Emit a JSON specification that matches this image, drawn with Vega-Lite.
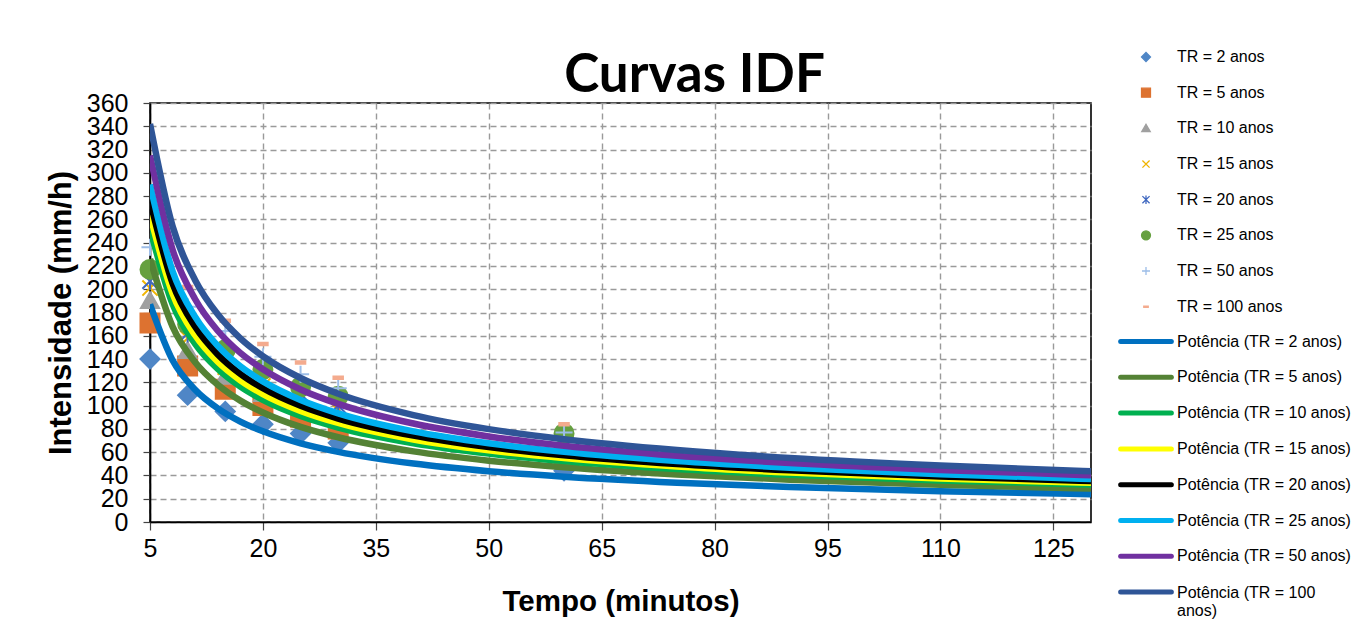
{
  "$schema": "https://vega.github.io/schema/vega-lite/v6.json",
  "width": 941,
  "height": 419,
  "autosize": {"type": "none"},
  "padding": {"left": 150, "top": 103, "right": 273, "bottom": 97},
  "background": "white",
  "title": {"text": "Curvas IDF", "font": "Lato", "fontSize": 53, "fontWeight": "bold", "color": "black", "anchor": "middle", "frame": "group", "dx": 74, "offset": -96, "baseline": "alphabetic"},
  "config": {
    "view": {"stroke": "black", "strokeWidth": 1.6},
    "axis": {"labelFont": "Liberation Sans", "titleFont": "Liberation Sans", "labelColor": "black", "titleColor": "black", "domainColor": "black", "domainWidth": 1.6, "tickColor": "#444", "tickWidth": 1.2, "grid": true, "gridColor": "#9a9a9a", "gridDash": [6, 4], "gridWidth": 1.4, "labelOverlap": false, "labelFlush": false, "labelBound": false, "titleFontWeight": "bold"},
    "legend": {"labelFont": "Liberation Sans", "labelFontSize": 16, "labelColor": "black", "labelLimit": 300, "padding": 0, "clipHeight": 16, "rowPadding": 19.67, "symbolOpacity": 1}
  },
  "datasets": {
    "pts": [
      {"s": "TR = 2 anos", "t": 5, "v": 140}, {"s": "TR = 2 anos", "t": 10, "v": 109}, {"s": "TR = 2 anos", "t": 15, "v": 95}, {"s": "TR = 2 anos", "t": 20, "v": 84}, {"s": "TR = 2 anos", "t": 25, "v": 76}, {"s": "TR = 2 anos", "t": 30, "v": 68}, {"s": "TR = 2 anos", "t": 60, "v": 44},
      {"s": "TR = 5 anos", "t": 5, "v": 171}, {"s": "TR = 5 anos", "t": 10, "v": 134}, {"s": "TR = 5 anos", "t": 15, "v": 114}, {"s": "TR = 5 anos", "t": 20, "v": 100}, {"s": "TR = 5 anos", "t": 25, "v": 90}, {"s": "TR = 5 anos", "t": 30, "v": 80}, {"s": "TR = 5 anos", "t": 60, "v": 55},
      {"s": "TR = 10 anos", "t": 5, "v": 190}, {"s": "TR = 10 anos", "t": 10, "v": 147}, {"s": "TR = 10 anos", "t": 15, "v": 125}, {"s": "TR = 10 anos", "t": 20, "v": 110}, {"s": "TR = 10 anos", "t": 25, "v": 100}, {"s": "TR = 10 anos", "t": 30, "v": 91}, {"s": "TR = 10 anos", "t": 60, "v": 63},
      {"s": "TR = 15 anos", "t": 5, "v": 201}, {"s": "TR = 15 anos", "t": 10, "v": 158}, {"s": "TR = 15 anos", "t": 15, "v": 133}, {"s": "TR = 15 anos", "t": 20, "v": 117}, {"s": "TR = 15 anos", "t": 25, "v": 106}, {"s": "TR = 15 anos", "t": 30, "v": 96}, {"s": "TR = 15 anos", "t": 60, "v": 67},
      {"s": "TR = 20 anos", "t": 5, "v": 207}, {"s": "TR = 20 anos", "t": 10, "v": 162}, {"s": "TR = 20 anos", "t": 15, "v": 137}, {"s": "TR = 20 anos", "t": 20, "v": 121}, {"s": "TR = 20 anos", "t": 25, "v": 110}, {"s": "TR = 20 anos", "t": 30, "v": 100}, {"s": "TR = 20 anos", "t": 60, "v": 70},
      {"s": "TR = 25 anos", "t": 5, "v": 217}, {"s": "TR = 25 anos", "t": 10, "v": 170}, {"s": "TR = 25 anos", "t": 15, "v": 148}, {"s": "TR = 25 anos", "t": 20, "v": 131}, {"s": "TR = 25 anos", "t": 25, "v": 116}, {"s": "TR = 25 anos", "t": 30, "v": 108}, {"s": "TR = 25 anos", "t": 60, "v": 76},
      {"s": "TR = 50 anos", "t": 5, "v": 236}, {"s": "TR = 50 anos", "t": 10, "v": 185}, {"s": "TR = 50 anos", "t": 15, "v": 164}, {"s": "TR = 50 anos", "t": 20, "v": 142}, {"s": "TR = 50 anos", "t": 25, "v": 127}, {"s": "TR = 50 anos", "t": 30, "v": 115}, {"s": "TR = 50 anos", "t": 60, "v": 77},
      {"s": "TR = 100 anos", "t": 10, "v": 202}, {"s": "TR = 100 anos", "t": 15, "v": 173}, {"s": "TR = 100 anos", "t": 20, "v": 153}, {"s": "TR = 100 anos", "t": 25, "v": 137}, {"s": "TR = 100 anos", "t": 30, "v": 124}, {"s": "TR = 100 anos", "t": 60, "v": 84}
    ],
    "fit": [
      {"s": "Potência (TR = 2 anos)", "t": 5, "v": 187}, {"s": "Potência (TR = 2 anos)", "t": 8, "v": 138.9}, {"s": "Potência (TR = 2 anos)", "t": 11, "v": 113.6}, {"s": "Potência (TR = 2 anos)", "t": 14, "v": 97.6}, {"s": "Potência (TR = 2 anos)", "t": 17, "v": 86.3}, {"s": "Potência (TR = 2 anos)", "t": 20, "v": 77.9}, {"s": "Potência (TR = 2 anos)", "t": 25, "v": 67.6}, {"s": "Potência (TR = 2 anos)", "t": 30, "v": 60.3}, {"s": "Potência (TR = 2 anos)", "t": 40, "v": 50.2}, {"s": "Potência (TR = 2 anos)", "t": 50, "v": 43.6}, {"s": "Potência (TR = 2 anos)", "t": 60, "v": 38.9}, {"s": "Potência (TR = 2 anos)", "t": 75, "v": 33.8}, {"s": "Potência (TR = 2 anos)", "t": 90, "v": 30.1}, {"s": "Potência (TR = 2 anos)", "t": 110, "v": 26.5}, {"s": "Potência (TR = 2 anos)", "t": 130, "v": 23.9},
      {"s": "Potência (TR = 5 anos)", "t": 5, "v": 226}, {"s": "Potência (TR = 5 anos)", "t": 8, "v": 167.9}, {"s": "Potência (TR = 5 anos)", "t": 11, "v": 137.3}, {"s": "Potência (TR = 5 anos)", "t": 14, "v": 117.9}, {"s": "Potência (TR = 5 anos)", "t": 17, "v": 104.3}, {"s": "Potência (TR = 5 anos)", "t": 20, "v": 94.1}, {"s": "Potência (TR = 5 anos)", "t": 25, "v": 81.7}, {"s": "Potência (TR = 5 anos)", "t": 30, "v": 72.8}, {"s": "Potência (TR = 5 anos)", "t": 40, "v": 60.7}, {"s": "Potência (TR = 5 anos)", "t": 50, "v": 52.7}, {"s": "Potência (TR = 5 anos)", "t": 60, "v": 47.0}, {"s": "Potência (TR = 5 anos)", "t": 75, "v": 40.8}, {"s": "Potência (TR = 5 anos)", "t": 90, "v": 36.4}, {"s": "Potência (TR = 5 anos)", "t": 110, "v": 32.0}, {"s": "Potência (TR = 5 anos)", "t": 130, "v": 28.8},
      {"s": "Potência (TR = 10 anos)", "t": 5, "v": 252}, {"s": "Potência (TR = 10 anos)", "t": 8, "v": 187.2}, {"s": "Potência (TR = 10 anos)", "t": 11, "v": 153.1}, {"s": "Potência (TR = 10 anos)", "t": 14, "v": 131.5}, {"s": "Potência (TR = 10 anos)", "t": 17, "v": 116.3}, {"s": "Potência (TR = 10 anos)", "t": 20, "v": 104.9}, {"s": "Potência (TR = 10 anos)", "t": 25, "v": 91.1}, {"s": "Potência (TR = 10 anos)", "t": 30, "v": 81.2}, {"s": "Potência (TR = 10 anos)", "t": 40, "v": 67.7}, {"s": "Potência (TR = 10 anos)", "t": 50, "v": 58.8}, {"s": "Potência (TR = 10 anos)", "t": 60, "v": 52.4}, {"s": "Potência (TR = 10 anos)", "t": 75, "v": 45.5}, {"s": "Potência (TR = 10 anos)", "t": 90, "v": 40.5}, {"s": "Potência (TR = 10 anos)", "t": 110, "v": 35.7}, {"s": "Potência (TR = 10 anos)", "t": 130, "v": 32.2},
      {"s": "Potência (TR = 15 anos)", "t": 5, "v": 264}, {"s": "Potência (TR = 15 anos)", "t": 8, "v": 196.2}, {"s": "Potência (TR = 15 anos)", "t": 11, "v": 160.4}, {"s": "Potência (TR = 15 anos)", "t": 14, "v": 137.7}, {"s": "Potência (TR = 15 anos)", "t": 17, "v": 121.8}, {"s": "Potência (TR = 15 anos)", "t": 20, "v": 109.9}, {"s": "Potência (TR = 15 anos)", "t": 25, "v": 95.5}, {"s": "Potência (TR = 15 anos)", "t": 30, "v": 85.1}, {"s": "Potência (TR = 15 anos)", "t": 40, "v": 70.9}, {"s": "Potência (TR = 15 anos)", "t": 50, "v": 61.6}, {"s": "Potência (TR = 15 anos)", "t": 60, "v": 54.9}, {"s": "Potência (TR = 15 anos)", "t": 75, "v": 47.7}, {"s": "Potência (TR = 15 anos)", "t": 90, "v": 42.5}, {"s": "Potência (TR = 15 anos)", "t": 110, "v": 37.4}, {"s": "Potência (TR = 15 anos)", "t": 130, "v": 33.7},
      {"s": "Potência (TR = 20 anos)", "t": 5, "v": 276}, {"s": "Potência (TR = 20 anos)", "t": 8, "v": 205.1}, {"s": "Potência (TR = 20 anos)", "t": 11, "v": 167.7}, {"s": "Potência (TR = 20 anos)", "t": 14, "v": 144.0}, {"s": "Potência (TR = 20 anos)", "t": 17, "v": 127.3}, {"s": "Potência (TR = 20 anos)", "t": 20, "v": 114.9}, {"s": "Potência (TR = 20 anos)", "t": 25, "v": 99.8}, {"s": "Potência (TR = 20 anos)", "t": 30, "v": 88.9}, {"s": "Potência (TR = 20 anos)", "t": 40, "v": 74.2}, {"s": "Potência (TR = 20 anos)", "t": 50, "v": 64.4}, {"s": "Potência (TR = 20 anos)", "t": 60, "v": 57.4}, {"s": "Potência (TR = 20 anos)", "t": 75, "v": 49.8}, {"s": "Potência (TR = 20 anos)", "t": 90, "v": 44.4}, {"s": "Potência (TR = 20 anos)", "t": 110, "v": 39.1}, {"s": "Potência (TR = 20 anos)", "t": 130, "v": 35.2},
      {"s": "Potência (TR = 25 anos)", "t": 5, "v": 290}, {"s": "Potência (TR = 25 anos)", "t": 8, "v": 215.5}, {"s": "Potência (TR = 25 anos)", "t": 11, "v": 176.2}, {"s": "Potência (TR = 25 anos)", "t": 14, "v": 151.3}, {"s": "Potência (TR = 25 anos)", "t": 17, "v": 133.8}, {"s": "Potência (TR = 25 anos)", "t": 20, "v": 120.8}, {"s": "Potência (TR = 25 anos)", "t": 25, "v": 104.9}, {"s": "Potência (TR = 25 anos)", "t": 30, "v": 93.4}, {"s": "Potência (TR = 25 anos)", "t": 40, "v": 77.9}, {"s": "Potência (TR = 25 anos)", "t": 50, "v": 67.7}, {"s": "Potência (TR = 25 anos)", "t": 60, "v": 60.3}, {"s": "Potência (TR = 25 anos)", "t": 75, "v": 52.4}, {"s": "Potência (TR = 25 anos)", "t": 90, "v": 46.7}, {"s": "Potência (TR = 25 anos)", "t": 110, "v": 41.1}, {"s": "Potência (TR = 25 anos)", "t": 130, "v": 37.0},
      {"s": "Potência (TR = 50 anos)", "t": 5, "v": 315}, {"s": "Potência (TR = 50 anos)", "t": 8, "v": 234.0}, {"s": "Potência (TR = 50 anos)", "t": 11, "v": 191.4}, {"s": "Potência (TR = 50 anos)", "t": 14, "v": 164.3}, {"s": "Potência (TR = 50 anos)", "t": 17, "v": 145.3}, {"s": "Potência (TR = 50 anos)", "t": 20, "v": 131.2}, {"s": "Potência (TR = 50 anos)", "t": 25, "v": 113.9}, {"s": "Potência (TR = 50 anos)", "t": 30, "v": 101.5}, {"s": "Potência (TR = 50 anos)", "t": 40, "v": 84.6}, {"s": "Potência (TR = 50 anos)", "t": 50, "v": 73.5}, {"s": "Potência (TR = 50 anos)", "t": 60, "v": 65.5}, {"s": "Potência (TR = 50 anos)", "t": 75, "v": 56.9}, {"s": "Potência (TR = 50 anos)", "t": 90, "v": 50.7}, {"s": "Potência (TR = 50 anos)", "t": 110, "v": 44.7}, {"s": "Potência (TR = 50 anos)", "t": 130, "v": 40.2},
      {"s": "Potência (TR = 100 anos)", "t": 5, "v": 342}, {"s": "Potência (TR = 100 anos)", "t": 8, "v": 254.1}, {"s": "Potência (TR = 100 anos)", "t": 11, "v": 207.8}, {"s": "Potência (TR = 100 anos)", "t": 14, "v": 178.4}, {"s": "Potência (TR = 100 anos)", "t": 17, "v": 157.8}, {"s": "Potência (TR = 100 anos)", "t": 20, "v": 142.4}, {"s": "Potência (TR = 100 anos)", "t": 25, "v": 123.7}, {"s": "Potência (TR = 100 anos)", "t": 30, "v": 110.2}, {"s": "Potência (TR = 100 anos)", "t": 40, "v": 91.9}, {"s": "Potência (TR = 100 anos)", "t": 50, "v": 79.8}, {"s": "Potência (TR = 100 anos)", "t": 60, "v": 71.1}, {"s": "Potência (TR = 100 anos)", "t": 75, "v": 61.8}, {"s": "Potência (TR = 100 anos)", "t": 90, "v": 55.0}, {"s": "Potência (TR = 100 anos)", "t": 110, "v": 48.5}, {"s": "Potência (TR = 100 anos)", "t": 130, "v": 43.6}
    ]
  },
  "encoding": {
    "x": {"field": "t", "type": "quantitative", "scale": {"domain": [5, 130], "nice": false, "zero": false},
      "axis": {"values": [5, 20, 35, 50, 65, 80, 95, 110, 125], "title": "Tempo (minutos)", "labelFontSize": 25, "titleFontSize": 29.5, "tickSize": 8, "labelPadding": 6, "titlePadding": 26}},
    "y": {"field": "v", "type": "quantitative", "scale": {"domain": [0, 360], "nice": false, "zero": true},
      "axis": {"values": [0, 20, 40, 60, 80, 100, 120, 140, 160, 180, 200, 220, 240, 260, 280, 300, 320, 340, 360], "title": "Intensidade (mm/h)", "labelFontSize": 25, "titleFontSize": 31, "tickSize": 7, "labelPadding": 15, "titlePadding": 9}}
  },
  "layer": [
    {
      "data": {"name": "pts"},
      "mark": {"type": "point", "filled": true, "opacity": 1, "strokeWidth": 2, "size": 361},
      "encoding": {
        "shape": {"field": "s", "type": "nominal",
          "scale": {"domain": ["TR = 2 anos", "TR = 5 anos", "TR = 10 anos", "TR = 15 anos", "TR = 20 anos", "TR = 25 anos", "TR = 50 anos", "TR = 100 anos"],
            "range": ["diamond", "square", "M0,-0.9L0.95,0.75L-0.95,0.75Z", "M-0.8,-0.8L0.8,0.8M0.8,-0.8L-0.8,0.8", "M-0.8,-0.8L0.8,0.8M0.8,-0.8L-0.8,0.8M0,-0.95L0,0.95", "circle", "M-0.9,0L0.9,0M0,-0.9L0,0.9", "M-0.5,-0.13L0.5,-0.13L0.5,0.13L-0.5,0.13Z"]},
          "legend": {"title": null, "orient": "none", "legendX": 988, "legendY": -54, "symbolSize": 80, "symbolStrokeWidth": 1.3, "labelOffset": 23}},
        "fill": {"field": "s", "type": "nominal",
          "scale": {"domain": ["TR = 2 anos", "TR = 5 anos", "TR = 10 anos", "TR = 15 anos", "TR = 20 anos", "TR = 25 anos", "TR = 50 anos", "TR = 100 anos"],
            "range": ["#4f86c6", "#dd7230", "#a0a0a0", "transparent", "transparent", "#66a040", "transparent", "#f4ab8e"]},
          "legend": {"title": null, "orient": "none", "legendX": 988, "legendY": -54, "symbolSize": 80, "symbolStrokeWidth": 1.3, "labelOffset": 23}},
        "stroke": {"field": "s", "type": "nominal",
          "scale": {"domain": ["TR = 2 anos", "TR = 5 anos", "TR = 10 anos", "TR = 15 anos", "TR = 20 anos", "TR = 25 anos", "TR = 50 anos", "TR = 100 anos"],
            "range": ["#4f86c6", "#dd7230", "#a0a0a0", "#f0b400", "#4068c0", "#66a040", "#9cbde8", "#f4ab8e"]},
          "legend": {"title": null, "orient": "none", "legendX": 988, "legendY": -54, "symbolSize": 80, "symbolStrokeWidth": 1.3, "labelOffset": 23}}
      }
    },
    {
      "data": {"name": "fit"},
      "mark": {"type": "line", "strokeWidth": 6.5, "interpolate": "monotone", "clip": true},
      "encoding": {
        "color": {"field": "s", "type": "nominal",
          "scale": {"domain": ["Potência (TR = 2 anos)", "Potência (TR = 5 anos)", "Potência (TR = 10 anos)", "Potência (TR = 15 anos)", "Potência (TR = 20 anos)", "Potência (TR = 25 anos)", "Potência (TR = 50 anos)", "Potência (TR = 100 anos)"],
            "range": ["#0070c0", "#548235", "#00b050", "#ffff00", "#000000", "#00b0f0", "#7030a0", "#2f5597"]},
          "legend": {"title": null, "orient": "none", "legendX": 968, "legendY": 230.5, "symbolType": "stroke", "symbolSize": 2570, "symbolStrokeWidth": 5, "labelOffset": 3, "rowPadding": 19.8,
            "labelExpr": "datum.label == 'Potência (TR = 100 anos)' ? ['Potência (TR = 100', 'anos)'] : datum.label",
            "encode": {"symbols": {"update": {"strokeCap": {"value": "round"}}}, "labels": {"update": {"dy": {"signal": "datum.label == 'Potência (TR = 100 anos)' ? 1 : 0"}}}}}}
      }
    }
  ]
}
